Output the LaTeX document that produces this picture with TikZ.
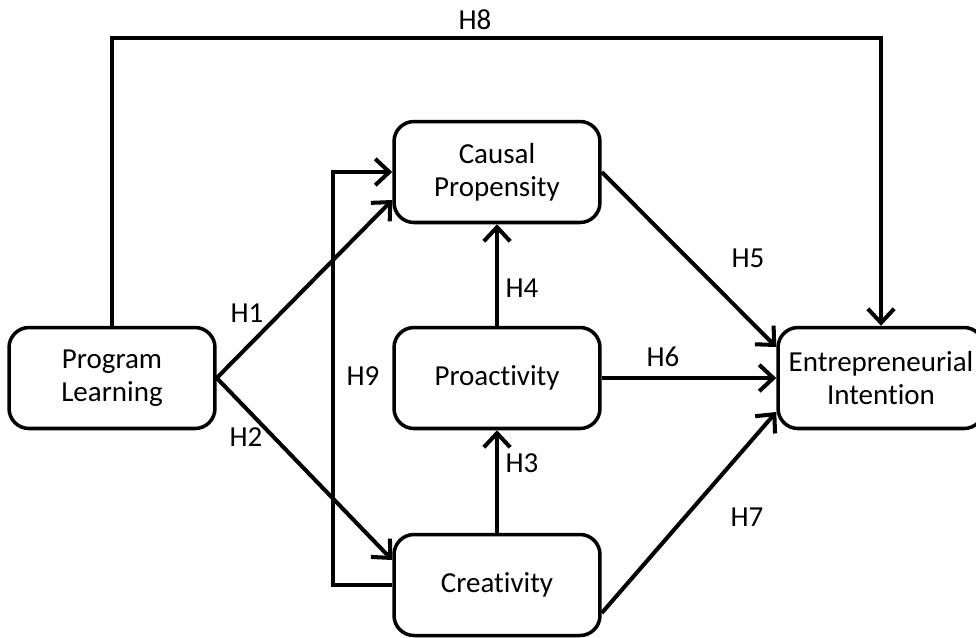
\documentclass[tikz,border=0pt]{standalone}
\usepackage{fontspec}
\setmainfont{Carlito}[Ligatures=NoCommon]
\usetikzlibrary{arrows.meta}

\begin{document}
\begin{tikzpicture}[x=0.02cm,y=-0.02cm,
  box/.style={draw,line width=2pt,rounded corners=0.4cm,minimum width=4.12cm,minimum height=2.02cm,align=center,font=\fontsize{16.5}{19}\selectfont},
  hyp/.style={line width=2.3pt,-{Straight Barb[length=8pt,width=15pt]}},
  lbl/.style={inner sep=1pt,font=\fontsize{16.5}{19}\selectfont}]
\useasboundingbox (0,0) rectangle (976,637);
% constructs
\node[box] (pl) at (112,378) {Program\\Learning};
\node[box] (cp) at (497,172) {Causal\\Propensity};
\node[box] (pr) at (497,378) {Proactivity};
\node[box] (cr) at (497,585) {Creativity};
\node[box] (ei) at (881,378) {Entrepreneurial\\Intention};
\coordinate (top) at (497,38);
\coordinate (h9) at (333,378);
% hypotheses
\draw[hyp] (pl.north) |- (top) -| (ei.north);
\draw[hyp] (pl.east) -- ([yshift=-0.56cm]cp.west);
\draw[hyp] (pl.east) -- ([yshift=0.5cm]cr.west);
\draw[hyp] (cr.north) -- (pr.south);
\draw[hyp] (pr.north) -- (cp.south);
\draw[hyp] (cp.east) -- ([yshift=0.62cm]ei.west);
\draw[hyp] (pr.east) -- (ei.west);
\draw[hyp] ([yshift=-0.56cm]cr.east) -- ([yshift=-0.68cm]ei.west);
\draw[hyp] (cr.west) -| (h9) |- (cp.west);
% labels
\node[lbl] (l8) at (475,20) {H8};
\node[lbl] (l1) at (247,313) {H1};
\node[lbl] (l2) at (246,437) {H2};
\node[lbl] (l9) at (363,376) {H9};
\node[lbl] (l4) at (522,288) {H4};
\node[lbl] (l3) at (522,463) {H3};
\node[lbl] (l5) at (748,258) {H5};
\node[lbl] (l6) at (663,357) {H6};
\node[lbl] (l7) at (747,517) {H7};
\end{tikzpicture}
\end{document}
